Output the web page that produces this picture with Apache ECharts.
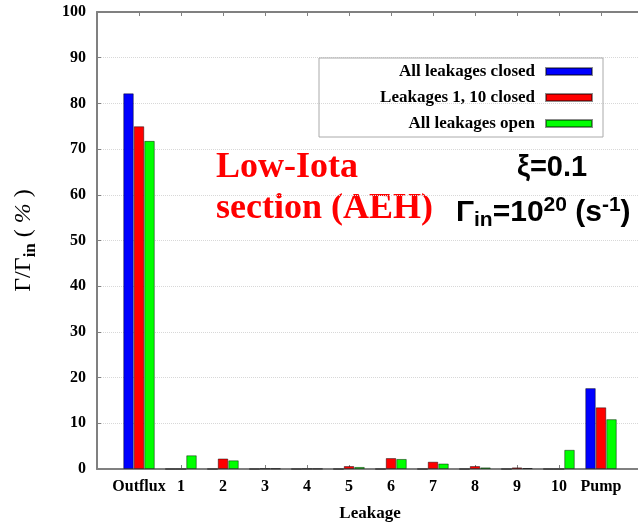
<!DOCTYPE html>
<html>
<head>
<meta charset="utf-8">
<script src="https://cdn.jsdelivr.net/npm/echarts@6/dist/echarts.min.js"></script>
<style>
html,body{margin:0;padding:0;background:#fff;}
#chart{width:638px;height:523px;}
</style>
</head>
<body>
<div id="chart"></div>
<script>
const categories = ['Outflux', '1', '2', '3', '4', '5', '6', '7', '8', '9', '10', 'Pump'];
const allClosed = [82.2, 0, 0, 0, 0, 0, 0, 0, 0, 0, 0, 17.7];
const leak110Closed = [75.0, 0, 2.3, 0.1, 0.05, 0.65, 2.4, 1.6, 0.65, 0.35, 0, 13.5];
const allOpen = [71.8, 3.0, 1.9, 0.1, 0.05, 0.45, 2.2, 1.2, 0.35, 0.2, 4.2, 10.9];
const seriesNames = ['All leakages closed', 'Leakages 1, 10 closed', 'All leakages open'];
const seriesColors = ['#0000ff', '#ff0000', '#00ff00'];

const pad = arr => ['-'].concat(arr, ['-']);
const cats = [''].concat(categories, ['']);
const serif = 'Liberation Serif';
const sans = 'Liberation Sans';
const axisGray = '#808080';

const chart = echarts.init(document.getElementById('chart'));
const data = [allClosed, leak110Closed, allOpen];

chart.setOption({
  animation: false,
  backgroundColor: '#ffffff',
  grid: { left: 97, top: 12, width: 546, height: 457, outerBoundsMode: 'none', containLabel: false },
  legend: {
    orient: 'vertical',
    left: 319,
    top: 58,
    align: 'right',
    itemWidth: 46,
    itemHeight: 7,
    itemGap: 9,
    padding: [5, 10, 5, 10],
    borderColor: '#aaaaaa',
    borderWidth: 1,
    icon: 'rect',
    data: seriesNames,
    textStyle: {
      fontFamily: serif, fontWeight: 'bold', fontSize: 17, color: '#000',
      width: 206, lineHeight: 17, padding: [0, 6, 0, 0]
    }
  },
  xAxis: [{
    type: 'category',
    data: cats,
    boundaryGap: false,
    axisLine: { lineStyle: { color: axisGray, width: 2 } },
    axisTick: { inside: true, length: 4, interval: 0, lineStyle: { color: axisGray } },
    axisLabel: { interval: 0, margin: 10, fontFamily: serif, fontWeight: 'bold', fontSize: 16, color: '#000' },
    splitLine: { show: false },
    name: 'Leakage',
    nameLocation: 'middle',
    nameGap: 36,
    nameTextStyle: { fontFamily: serif, fontWeight: 'bold', fontSize: 17, color: '#000' }
  }, {
    type: 'category',
    data: cats,
    position: 'top',
    boundaryGap: false,
    axisLine: { lineStyle: { color: axisGray, width: 2 } },
    axisTick: { inside: true, length: 4, interval: 0, lineStyle: { color: axisGray } },
    axisLabel: { show: false },
    splitLine: { show: false }
  }],
  yAxis: {
    type: 'value',
    min: 0, max: 100, interval: 10,
    axisLine: { show: true, lineStyle: { color: axisGray, width: 2 } },
    axisTick: { show: true, inside: true, length: 4, lineStyle: { color: axisGray } },
    axisLabel: { margin: 11, fontFamily: serif, fontWeight: 'bold', fontSize: 16, color: '#000' },
    splitLine: { show: true, lineStyle: { color: '#d8d8d8', type: 'dotted', width: 1 } },
    name: '{a|Γ/Γ}{b|in}{a| ( }{c|%}{a| )}',
    nameLocation: 'middle',
    nameGap: 58,
    nameTextStyle: {
      rich: {
        a: { fontFamily: serif, fontSize: 24, lineHeight: 30, color: '#000' },
        b: { fontFamily: serif, fontWeight: 'bold', fontSize: 17, lineHeight: 17, verticalAlign: 'bottom', color: '#000' },
        c: { fontFamily: serif, fontStyle: 'italic', fontSize: 24, lineHeight: 30, color: '#000' }
      }
    }
  },
  series: data.map((d, i) => ({
    name: seriesNames[i],
    type: 'bar',
    data: pad(d),
    barWidth: 10.5,
    barGap: '0%',
    itemStyle: { color: seriesColors[i], borderColor: 'rgba(0,0,0,0.45)', borderWidth: 1 }
  })),
  graphic: [
    {
      type: 'text', x: 216, y: 147,
      style: {
        text: 'Low-Iota\nsection (AEH)',
        font: 'bold 36px "Liberation Serif"',
        fill: '#ff0000',
        lineHeight: 41,
        verticalAlign: 'top'
      }
    },
    {
      type: 'text', x: 517, y: 153,
      style: {
        text: 'ξ=0.1',
        font: 'bold 29px "Liberation Sans"',
        fill: '#000',
        verticalAlign: 'top'
      }
    },
    {
      type: 'text', x: 456, y: 195,
      style: {
        text: '{m|Γ}{s|in}{m|=10}{p|20}{m| (s}{p|-1}{m|)}',
        verticalAlign: 'top',
        rich: {
          m: { fontFamily: sans, fontWeight: 'bold', fontSize: 30, lineHeight: 36, fill: '#000' },
          s: { fontFamily: sans, fontWeight: 'bold', fontSize: 21, lineHeight: 20, verticalAlign: 'bottom', fill: '#000' },
          p: { fontFamily: sans, fontWeight: 'bold', fontSize: 21, lineHeight: 20, verticalAlign: 'top', fill: '#000' }
        }
      }
    }
  ]
});
</script>
</body>
</html>
